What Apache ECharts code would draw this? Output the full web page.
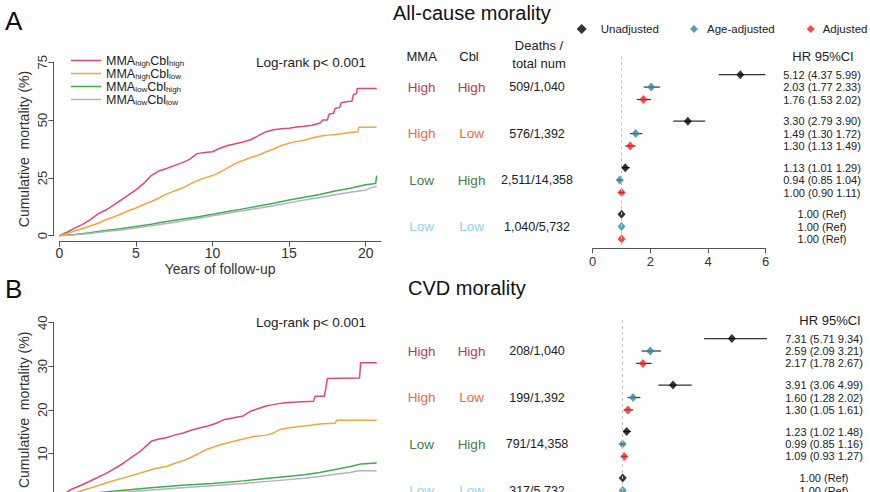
<!DOCTYPE html>
<html><head><meta charset="utf-8">
<script src="https://cdn.jsdelivr.net/npm/echarts@6/dist/echarts.min.js"></script>
<style>html,body{margin:0;padding:0;background:#fff}#c{width:870px;height:492px}</style>
</head><body><div id="c"></div>
<script>
// ---------- DATA ----------
const groupNames = ['MMAhighCblhigh','MMAhighCbllow','MMAlowCblhigh','MMAlowCbllow'];
const mmaLevels = ['High','High','Low','Low'];
const cblLevels = ['High','Low','High','Low'];
const deathsAll = ['509/1,040','576/1,392','2,511/14,358','1,040/5,732'];
const deathsCvd = ['208/1,040','199/1,392','791/14,358','317/5,732'];
const modelNames = ['Unadjusted','Age-adjusted','Adjusted'];

const kmYearTicks = [0,5,10,15,20];
const kmAllTicks = [0,25,50,75];
const kmCvdTicks = [0,10,20,30,40];
const forestAllTicks = [0,2,4,6];
const forestCvdTicks = [0,2,4,6,8,10];

// Kaplan-Meier cumulative mortality (%) : [year, %]
const kmAllHH = [[0,0],[0.5,1.5],[1,3.3],[1.5,4.8],[2,6.8],[2.5,9.3],[3,11],[3.5,13],[4,15.3],[4.5,17.5],[5,19.8],[5.5,22.5],[6,26],[6.5,28],[7,29.1],[7.5,30.3],[8,31.5],[8.5,33],[9,35.5],[9.5,36],[10,36.3],[10.5,37.8],[11,39],[11.5,39.8],[12,40.5],[12.5,41.5],[13,43.3],[13.5,45],[14,45.8],[14.5,46.3],[15,46.5],[15.5,47],[16,47.3],[16.5,47.8],[17,48.6],[17.2,50],[17.5,50],[17.6,52.5],[17.9,53],[18,55],[18.3,55.5],[18.4,57.5],[18.8,58],[19.1,58.2],[19.2,61],[19.4,61.5],[19.45,63.7],[20.72,63.7]];
const kmAllHL = [[0,0],[0.5,0.8],[1,2],[1.5,3],[2,4.2],[2.5,5.3],[3,6.8],[3.5,8],[4,9.3],[4.5,10.8],[5,12],[5.5,13.4],[6,14.8],[6.5,16.3],[7,18],[7.5,19.3],[8,20.5],[8.5,22.2],[9,23.8],[9.5,25],[10,26],[10.5,27.5],[11,29.3],[11.5,31.3],[12,32.5],[12.5,33.8],[13,34.8],[13.5,36.3],[14,37.5],[14.5,39],[15,40],[15.5,40.8],[16,41.3],[16.5,42.3],[17,43],[17.5,43.5],[18,43.8],[18.5,44.2],[19,44.6],[19.5,45],[19.55,46.9],[20.72,46.9]];
const kmAllLH = [[0,0],[1,0.5],[2,1.3],[3,2.2],[4,3],[5,4],[6,5],[7,6.1],[8,7.1],[9,8.1],[10,9.3],[11,10.5],[12,11.6],[13,12.8],[14,14],[15,15.4],[16,16.6],[17,17.8],[18,19.3],[19,20.5],[20,22],[20.65,22.6],[20.72,26]];
const kmAllLL = [[0,0],[1,0.4],[2,1],[3,1.8],[4,2.5],[5,3.3],[6,4.3],[7,5.3],[8,6.3],[9,7.4],[10,8.6],[11,9.7],[12,10.8],[13,11.9],[14,13],[15,14.2],[16,15.4],[17,16.5],[18,17.7],[19,18.8],[20,19.8],[20.4,20.8],[20.72,21.3]];

const kmCvdHH = [[0,0],[0.7,1.6],[1.5,2.8],[2.4,4.3],[3,5.3],[3.5,6.3],[4.2,7.8],[4.8,9.3],[5.3,10.5],[5.7,11.8],[6,12.8],[6.5,13.3],[7,13.6],[7.5,14.2],[8.1,14.7],[8.6,15.3],[9.2,15.9],[9.7,16.3],[10.3,17],[10.8,17.8],[11.4,18.2],[12,18.6],[12.5,19.7],[13,20.3],[13.5,20.9],[14,21.2],[14.6,21.6],[15.5,21.8],[16.6,22],[16.7,23.1],[17.3,23.1],[17.4,25],[17.5,27.2],[19.6,27.3],[19.67,30.8],[20.72,30.8]];
const kmCvdHL = [[0,0],[0.5,0.3],[1,0.9],[1.6,1.6],[2.5,2.6],[3.3,3.5],[4.3,4.5],[5.3,5.5],[6.2,6.5],[7,7],[7.6,7.8],[8.3,8.6],[9,9.8],[9.6,10.9],[10.5,12],[11.4,12.8],[12,13.3],[12.7,13.9],[13.5,14.2],[14,14.7],[14.4,15.5],[15,15.9],[15.7,16.2],[16.5,16.5],[17.2,16.8],[18,16.9],[18.1,17.6],[20.72,17.6]];
const kmCvdLH = [[0,0],[2,0.8],[4,1.5],[6,2.1],[8,2.7],[10,3.1],[12,3.7],[14,4.4],[16,5.1],[17,5.6],[18,6.3],[19,7.0],[19.7,7.6],[20.72,7.8]];
const kmCvdLL = [[0,0],[2,0.5],[4,1.1],[6,1.6],[8,2.1],[10,2.6],[12,3.1],[14,3.7],[16,4.3],[17,4.7],[18,5.2],[19,5.6],[19.5,6.0],[20.72,6.0]];

// Hazard ratios [HR, lower, upper] per group
const allUnadj = [[5.12,4.37,5.99],[3.30,2.79,3.90],[1.13,1.01,1.29],[1.00,null,null]];
const allAge   = [[2.03,1.77,2.33],[1.49,1.30,1.72],[0.94,0.85,1.04],[1.00,null,null]];
const allAdj   = [[1.76,1.53,2.02],[1.30,1.13,1.49],[1.00,0.90,1.11],[1.00,null,null]];
const cvdUnadj = [[7.31,5.71,9.34],[3.91,3.06,4.99],[1.23,1.02,1.48],[1.00,null,null]];
const cvdAge   = [[2.59,2.09,3.21],[1.60,1.28,2.02],[0.99,0.85,1.16],[1.00,null,null]];
const cvdAdj   = [[2.17,1.78,2.67],[1.30,1.05,1.61],[1.09,0.93,1.27],[1.00,null,null]];

// ---------- STYLE ----------
const FONT = 'Liberation Sans, Arial, sans-serif';
const kmColors = ['#e2457a','#f5a53f','#3fae49','#aab4cc'];
const tableColors = ['#c03a4e','#f26a3b','#3f7f45','#8ad6ec'];
const modelColors = ['#000000','#2b8a9e','#ff1a1a'];
const AX = '#555', TX = '#333';

const rowPos = (g, k) => g * 3.75 + k;

// showBottom: whether the bottom (x) axis texts fall inside the visible window
function kmAxes(gridIndex, yMax, yInt, showBottom) {
  return {
    x: {type:'value', gridIndex, min:0, max:21, offset:6,
      name: showBottom ? 'Years of follow-up' : '', nameLocation:'middle', nameGap:20,
      nameTextStyle:{fontSize:14, color:TX, fontFamily:FONT},
      axisLine:{show:true, onZero:false, lineStyle:{color:AX, width:1}},
      axisTick:{show:true, length:5, customValues:kmYearTicks, lineStyle:{color:AX}},
      axisLabel:{show:showBottom, customValues:kmYearTicks, fontSize:14, color:TX, fontFamily:FONT, margin:4},
      splitLine:{show:false}},
    y: {type:'value', gridIndex, min:0, max:yMax, interval:yInt, offset:6,
      name:'Cumulative  mortality (%)', nameLocation:'middle', nameGap:22,
      nameTextStyle:{fontSize:14, color:TX, fontFamily:FONT},
      axisLine:{show:true, onZero:false, lineStyle:{color:AX, width:1}},
      axisTick:{show:true, length:5, lineStyle:{color:AX}},
      axisLabel:{rotate:90, fontSize:13, color:TX, fontFamily:FONT, margin:4, showMinLabel:showBottom},
      splitLine:{show:false}}
  };
}
const kmA = kmAxes(0, 75, 25, true);
const kmB = kmAxes(1, 40, 10, false);

function forestX(gridIndex, max, showLabels) {
  return {type:'value', gridIndex, min:0, max, interval:2,
    axisLine:{show:true, onZero:false, lineStyle:{color:AX, width:1}},
    axisTick:{show:true, length:5, lineStyle:{color:AX}},
    axisLabel:{show:showLabels, fontSize:13, color:TX, fontFamily:FONT, margin:7},
    splitLine:{show:false}};
}
function forestY(gridIndex) {
  return {type:'value', gridIndex, min:-1.5, max:14, inverse:true, show:false, splitLine:{show:false}};
}

const series = [];
const kmAll = [kmAllHH, kmAllHL, kmAllLH, kmAllLL];
const kmCvd = [kmCvdHH, kmCvdHL, kmCvdLH, kmCvdLL];
[kmAll, kmCvd].forEach((set, p) => {
  set.forEach((d, i) => series.push({
    type:'line', name:groupNames[i], xAxisIndex:p, yAxisIndex:p, data:d,
    showSymbol:false, symbol:'none', color:kmColors[i],
    lineStyle:{width:1.5, color:kmColors[i]}, silent:true, z:3 - (i>1?1:0)
  }));
});

function forestSeries(axisIdx, models) {
  models.forEach((m, k) => {
    const ci = [];
    const pts = [];
    m.forEach((r, g) => {
      pts.push([r[0], rowPos(g, k)]);
      if (r[1] != null) ci.push([r[1], r[2], rowPos(g, k)]);
    });
    series.push({
      type:'custom', xAxisIndex:axisIdx, yAxisIndex:axisIdx, data:ci, silent:true,
      encode:{x:[0,1], y:2},
      renderItem:(params, api) => {
        const a = api.coord([api.value(0), api.value(2)]);
        const b = api.coord([api.value(1), api.value(2)]);
        return {type:'line', shape:{x1:a[0], y1:a[1], x2:b[0], y2:b[1]}, style:{stroke:'#333', lineWidth:1.2}};
      }, z:2
    });
    const s = {
      type:'scatter', name:modelNames[k], xAxisIndex:axisIdx, yAxisIndex:axisIdx, data:pts,
      symbol:'diamond', symbolSize:[8,9], itemStyle:{color:modelColors[k]}, color:modelColors[k], z:3, silent:true
    };
    if (k === 0) {
      s.markLine = {silent:true, symbol:['none','none'], label:{show:false},
        lineStyle:{type:[3,3], color:'#c4c4c4', width:1}, data:[{xAxis:1}], animation:false};
    }
    series.push(s);
  });
}
forestSeries(2, [allUnadj, allAge, allAdj]);
forestSeries(3, [cvdUnadj, cvdAge, cvdAdj]);

const legendText = {fontSize:11.5, color:'#222', fontFamily:FONT};
const option = {
  animation:false,
  backgroundColor:'#fff',
  grid:[
    {left:59.3, top:62.3, width:321.7, height:173.4, outerBoundsMode:'none'},
    {left:59.3, top:322.7, width:321.7, height:174.3, outerBoundsMode:'none'},
    {left:592.7, top:56.1, width:173, height:192.2, outerBoundsMode:'none'},
    {left:605.4, top:320, width:173, height:192.2, outerBoundsMode:'none'}
  ],
  xAxis:[kmA.x, kmB.x, forestX(2, 6, true), forestX(3, 10, false)],
  yAxis:[kmA.y, kmB.y, forestY(2), forestY(3)],
  legend:[
    {orient:'vertical', left:66, top:49, data:groupNames, icon:'rect', itemWidth:30, itemHeight:1.5, itemGap:0,
      selectedMode:false,
      formatter:(n) => n.replace(/MMA(high|low)Cbl(high|low)/, '{b|MMA}{s|$1}{b|Cbl}{s|$2}'),
      textStyle:{fontFamily:FONT, color:'#222', rich:{
        b:{fontSize:12.5, lineHeight:13, color:'#222', fontFamily:FONT},
        s:{fontSize:8, lineHeight:13, color:'#222', fontFamily:FONT, verticalAlign:'bottom', padding:[3,0,0,0]}}}},
    {left:576.7, top:23, padding:0, data:['Unadjusted'], icon:'diamond', itemWidth:10, itemHeight:10, selectedMode:false, textStyle:Object.assign({}, legendText, {padding:[0,0,0,9]})},
    {left:690, top:23, padding:0, data:['Age-adjusted'], icon:'diamond', itemWidth:8, itemHeight:8, selectedMode:false, textStyle:Object.assign({}, legendText, {padding:[0,0,0,4]})},
    {left:806.7, top:23, padding:0, width:70, data:['Adjusted'], icon:'diamond', itemWidth:8, itemHeight:8, selectedMode:false, textStyle:Object.assign({}, legendText, {padding:[0,0,0,3], overflow:'none'})}
  ],
  series
};

const chart = echarts.init(document.getElementById('c'), null, {renderer:'svg'});
chart.setOption(option);

// ---------- TEXT ANNOTATIONS ----------
function T(x, y, text, o) {
  o = o || {};
  return {type:'text', x, y, silent:true, z:10, style:{text, fill:o.fill || '#222', fontSize:o.size || 13,
    fontFamily:FONT, fontWeight:o.weight || 'normal', align:o.align || 'center', verticalAlign:'middle'}};
}
const fmt = (r) => r[1] == null ? r[0].toFixed(2) + ' (Ref)' : r[0].toFixed(2) + ' (' + r[1].toFixed(2) + ' ' + r[2].toFixed(2) + ')';
const g = [];
g.push(T(5, 21, 'A', {size:26, align:'left', fill:'#111'}));
g.push(T(5, 289, 'B', {size:26, align:'left', fill:'#111'}));
g.push(T(393, 13, 'All-cause morality', {size:20, align:'left', fill:'#111'}));
g.push(T(408, 288, 'CVD morality', {size:20, align:'left', fill:'#111'}));
g.push(T(366, 62, 'Log-rank p< 0.001', {size:13.5, align:'right'}));
g.push(T(366, 322, 'Log-rank p< 0.001', {size:13.5, align:'right'}));
// table headers (panel A only)
g.push(T(421.7, 56, 'MMA', {size:13}));
g.push(T(469, 56, 'Cbl', {size:13}));
g.push(T(539, 45, 'Deaths /', {size:13}));
g.push(T(539, 63, 'total num', {size:13}));

function panelText(axisIdx, deaths, models, hrCenter, hrHeadX, hrHeadY) {
  g.push(T(hrHeadX, hrHeadY, 'HR 95%CI', {size:13}));
  for (let gi = 0; gi < 4; gi++) {
    const yc = chart.convertToPixel({xAxisIndex:axisIdx, yAxisIndex:axisIdx}, [1, rowPos(gi, 1)])[1];
    g.push(T(421.7, yc, mmaLevels[gi], {size:13.5, fill:tableColors[gi]}));
    g.push(T(471.5, yc, cblLevels[gi], {size:13.5, fill:tableColors[gi]}));
    g.push(T(537, yc, deaths[gi], {size:12.5}));
    models.forEach((m, k) => {
      const y = chart.convertToPixel({xAxisIndex:axisIdx, yAxisIndex:axisIdx}, [1, rowPos(gi, k)])[1];
      g.push(T(hrCenter, y, fmt(m[gi]), {size:11, align:'center'}));
    });
  }
}
panelText(2, deathsAll, [allUnadj, allAge, allAdj], 822, 823, 56);
panelText(3, deathsCvd, [cvdUnadj, cvdAge, cvdAdj], 824, 830, 320);
chart.setOption({graphic:g});
</script></body></html>
